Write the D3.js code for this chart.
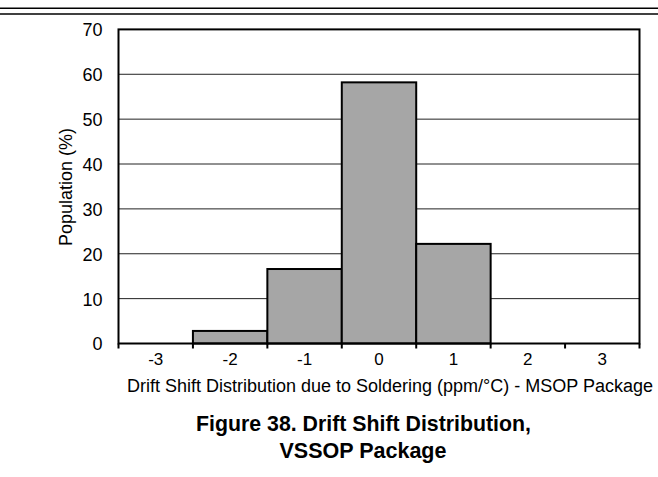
<!DOCTYPE html>
<html><head><meta charset="utf-8">
<script src="https://cdn.jsdelivr.net/npm/d3@7"></script>
<style>body{margin:0;background:#fff;}svg{display:block;font-family:"Liberation Sans",Arial,sans-serif;}</style>
</head><body>
<svg id="c" width="658" height="477"></svg>
<script>
const categories = ["-3","-2","-1","0","1","2","3"];
const population = [0, 2.8, 16.6, 58.2, 22.2, 0, 0];
const yTicks = [0,10,20,30,40,50,60,70];

const svg = d3.select("#c");
const FF = "Liberation Sans, Arial, sans-serif";
const L = 118.5, R = 639.5, T = 29.4, B = 343.5;
const x = d3.scaleBand().domain(categories).range([L, R]).padding(0);
const y = d3.scaleLinear().domain([0,70]).range([B, T]);

// header rules
svg.append("line").attr("x1",0).attr("x2",658).attr("y1",8.3).attr("y2",8.3).attr("stroke","#000").attr("stroke-width",1.6);
svg.append("line").attr("x1",0).attr("x2",658).attr("y1",14).attr("y2",14).attr("stroke","#000").attr("stroke-width",1.6);

// gridlines
svg.append("g").selectAll("line").data(yTicks.filter(d=>d>0&&d<70)).join("line")
  .attr("x1",L).attr("x2",R).attr("y1",d=>y(d)).attr("y2",d=>y(d))
  .attr("stroke","#222").attr("stroke-width",1);

// bars
svg.append("g").selectAll("rect").data(categories.map((c,i)=>({c,v:population[i]})).filter(d=>d.v>0)).join("rect")
  .attr("x",d=>x(d.c)).attr("width",x.bandwidth())
  .attr("y",d=>y(d.v)).attr("height",d=>y(0)-y(d.v))
  .attr("fill","#a6a6a6").attr("stroke","#000").attr("stroke-width",2);

// frame
svg.append("rect").attr("x",L).attr("y",T).attr("width",R-L).attr("height",B-T)
  .attr("fill","none").attr("stroke","#000").attr("stroke-width",2);

// y axis labels
const ya = svg.append("g").attr("transform",`translate(${L},0)`)
  .call(d3.axisLeft(y).tickValues(yTicks).tickSize(0).tickPadding(16));
ya.select(".domain").remove();
ya.selectAll("text").attr("font-size",18).attr("fill","#000").attr("font-family",FF).attr("dy","0.36em");

// x axis
const xa = svg.append("g").attr("transform",`translate(0,${B})`)
  .call(d3.axisBottom(x).tickSize(0).tickPadding(9));
xa.select(".domain").remove();
xa.selectAll("text").attr("font-size",17).attr("fill","#000").attr("font-family",FF);
// boundary ticks
const bounds = categories.map(c=>x(c)).concat([x(categories[categories.length-1])+x.bandwidth()]);
svg.append("g").selectAll("line").data(bounds).join("line")
  .attr("x1",d=>d).attr("x2",d=>d).attr("y1",B).attr("y2",B+5)
  .attr("stroke","#000").attr("stroke-width",2);

// axis titles
svg.append("text").attr("transform","translate(72,187) rotate(-90)")
  .attr("text-anchor","middle").attr("font-size",18).text("Population (%)");
svg.append("text").attr("x",390).attr("y",392).attr("text-anchor","middle")
  .attr("font-size",18).text("Drift Shift Distribution due to Soldering (ppm/°C) - MSOP Package");

// caption
svg.append("text").attr("x",363.5).attr("y",431).attr("text-anchor","middle")
  .attr("font-size",21.3).attr("font-weight","bold").text("Figure 38. Drift Shift Distribution,");
svg.append("text").attr("x",363).attr("y",457.5).attr("text-anchor","middle")
  .attr("font-size",21.5).attr("font-weight","bold").text("VSSOP Package");
</script>
</body></html>
